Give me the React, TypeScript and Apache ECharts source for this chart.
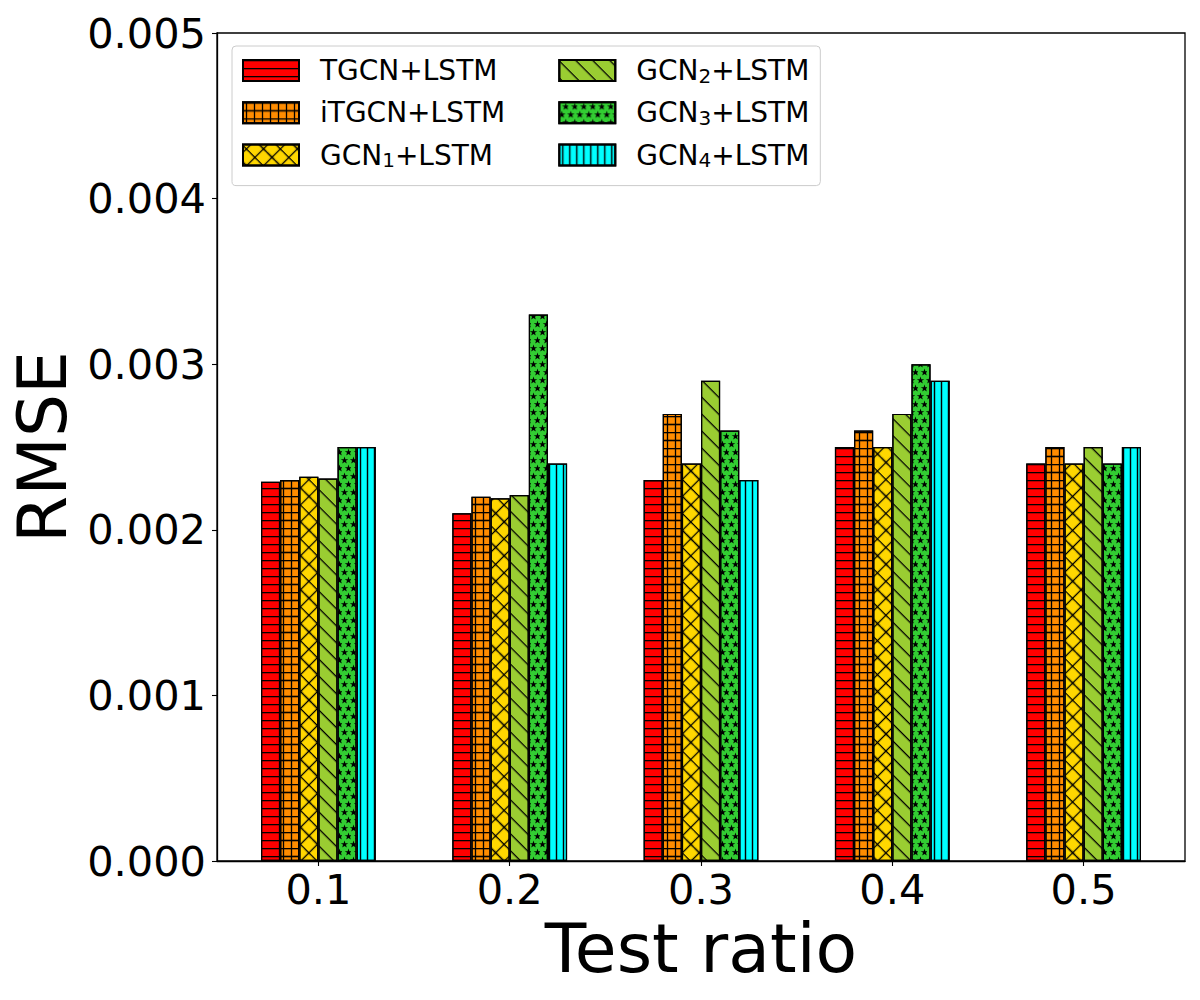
import React, { useEffect, useRef } from "react";
import * as echarts from "echarts";

const categories = ["0.1", "0.2", "0.3", "0.4", "0.5"];
const seriesNames = ["TGCN+LSTM", "iTGCN+LSTM", "GCN1+LSTM", "GCN2+LSTM", "GCN3+LSTM", "GCN4+LSTM"];
const tgcn = [0.00229, 0.0021, 0.0023, 0.0025, 0.0024];
const itgcn = [0.0023, 0.0022, 0.0027, 0.0026, 0.0025];
const gcn1 = [0.00232, 0.00219, 0.0024, 0.0025, 0.0024];
const gcn2 = [0.00231, 0.00221, 0.0029, 0.0027, 0.0025];
const gcn3 = [0.0025, 0.0033, 0.0026, 0.003, 0.0024];
const gcn4 = [0.0025, 0.0024, 0.0023, 0.0029, 0.0025];
const yTicks = [0, 0.001, 0.002, 0.003, 0.004, 0.005];

const FONT = "DejaVu Sans";
const STAR = "path://M50,0 L61.2,34.5 L97.6,34.5 L68.2,55.9 L79.4,90.5 L50,69.1 L20.6,90.5 L31.8,55.9 L2.4,34.5 L38.8,34.5 Z";

const colors = ["#FF0000", "#FF8C00", "#FFD700", "#9ACD32", "#32CD32", "#00FFFF"];

const decals: any[] = [
  // '-' horizontal lines
  { symbol: "rect", symbolSize: 1.35, dashArrayX: [1, 0], dashArrayY: [1, 7], color: "#000" },
  // '+' grid
  {
    symbol: "rect",
    symbolSize: 1.3,
    dashArrayX: [[1, 0], [0, 3, 1, 4]],
    dashArrayY: [1, 0, 7, 0],
    color: "#000",
  },
  // 'x' crosshatch
  {
    symbol: "rect",
    symbolSize: 1.3,
    dashArrayX: [[1, 0], [0, 5, 1, 6]],
    dashArrayY: [1, 0, 11, 0],
    rotation: Math.PI / 4,
    color: "#000",
  },
  // '\\' diagonal
  { symbol: "rect", symbolSize: 1.35, dashArrayX: [1, 0], dashArrayY: [1, 11], rotation: Math.PI / 4, color: "#000" },
  // '*' stars
  {
    symbol: STAR,
    symbolSize: 1.5,
    symbolKeepAspect: true,
    dashArrayX: [[5, 4], [0, 4, 5, 0]],
    dashArrayY: [8, 0],
    color: "#000",
  },
  // '|' vertical lines
  { symbol: "rect", symbolSize: 1.35, dashArrayX: [0, 3, 1, 3], dashArrayY: [1, 0], color: "#000" },
];

const seriesValues = [tgcn, itgcn, gcn1, gcn2, gcn3, gcn4];

function legendLabel(name: string) {
  const m = name.match(/^GCN(\d)(.*)$/);
  if (m) return `{n|GCN}{s|${m[1]}}{n|${m[2]}}`;
  return `{n|${name}}`;
}

export default function App() {
  const ref = useRef<HTMLDivElement>(null);
  useEffect(() => {
    document.body.style.margin = "0";
    const chart = echarts.init(ref.current!, null, { renderer: "svg" });
    const series = seriesValues.map((vals, k) => ({
      type: "bar",
      name: seriesNames[k],
      data: vals.map((v, i) => [i, v]),
      barWidth: "10%",
      barGap: "0%",
      itemStyle: {
        color: colors[k],
        borderColor: "#000",
        borderWidth: 1.2,
        decal: decals[k],
      },
    }));
    const col1Width = 226;
    chart.setOption({
      animation: false,
      backgroundColor: "#fff",
      textStyle: { fontFamily: FONT },
      grid: {
        left: 217,
        top: 33,
        width: 968,
        height: 828,
        show: true,
        borderColor: "#000",
        borderWidth: 1.3,
        backgroundColor: "transparent",
      },
      legend: {
        orient: "vertical",
        left: 232,
        top: 46,
        height: 116,
        itemGap: 12.3,
        itemWidth: 56,
        itemHeight: 21,
        icon: "rect",
        padding: [9.5, 11, 15.5, 10],
        backgroundColor: "rgba(255,255,255,0.8)",
        borderColor: "#cccccc",
        borderWidth: 1,
        borderRadius: 4,
        formatter: legendLabel,
        textStyle: {
          fontFamily: FONT,
          fontSize: 28,
          lineHeight: 30,
          color: "#000",
          padding: [0, 0, 0, 16],
          rich: {
            n: { fontFamily: FONT, fontSize: 28, lineHeight: 30, color: "#000" },
            s: { fontFamily: FONT, fontSize: 20, lineHeight: 15, verticalAlign: "bottom", color: "#000" },
          },
        },
        data: seriesNames.map((n, k) =>
          k < 3 ? { name: n, textStyle: { width: col1Width } } : { name: n }
        ),
      },
      xAxis: {
        type: "value",
        min: -0.53,
        max: 4.53,
        axisLine: { show: true, onZero: false, lineStyle: { color: "#000", width: 1.3 } },
        axisTick: {
          show: true,
          length: 5,
          customValues: categories.map((_, i) => i),
          lineStyle: { color: "#000", width: 1.1 },
        },
        axisLabel: {
          customValues: categories.map((_, i) => i),
          formatter: (v: number) => categories[Math.round(v)] ?? "",
          fontFamily: FONT,
          fontSize: 41.5,
          color: "#000",
          margin: 7,
        },
        splitLine: { show: false },
        name: "Test ratio",
        nameLocation: "middle",
        nameGap: 44,
        nameTextStyle: { fontFamily: FONT, fontSize: 68, color: "#000" },
      },
      yAxis: {
        type: "value",
        min: 0,
        max: 0.005,
        interval: 0.001,
        axisLine: { show: true, onZero: false, lineStyle: { color: "#000", width: 1.3 } },
        axisTick: { show: true, length: 5, lineStyle: { color: "#000", width: 1.1 } },
        axisLabel: {
          formatter: (v: number) => {
            const t = yTicks.find((x) => Math.abs(x - v) < 1e-9);
            return (t ?? v).toFixed(3);
          },
          fontFamily: FONT,
          fontSize: 41.5,
          color: "#000",
          margin: 11,
        },
        splitLine: { show: false },
        name: "RMSE",
        nameLocation: "middle",
        nameRotate: 90,
        nameGap: 128,
        nameTextStyle: { fontFamily: FONT, fontSize: 68, color: "#000" },
      },
      series,
    });
    return () => chart.dispose();
  }, []);
  return (
    <div
      ref={ref}
      style={{ position: "absolute", left: 0, top: 0, width: 1200, height: 1000 }}
    />
  );
}
